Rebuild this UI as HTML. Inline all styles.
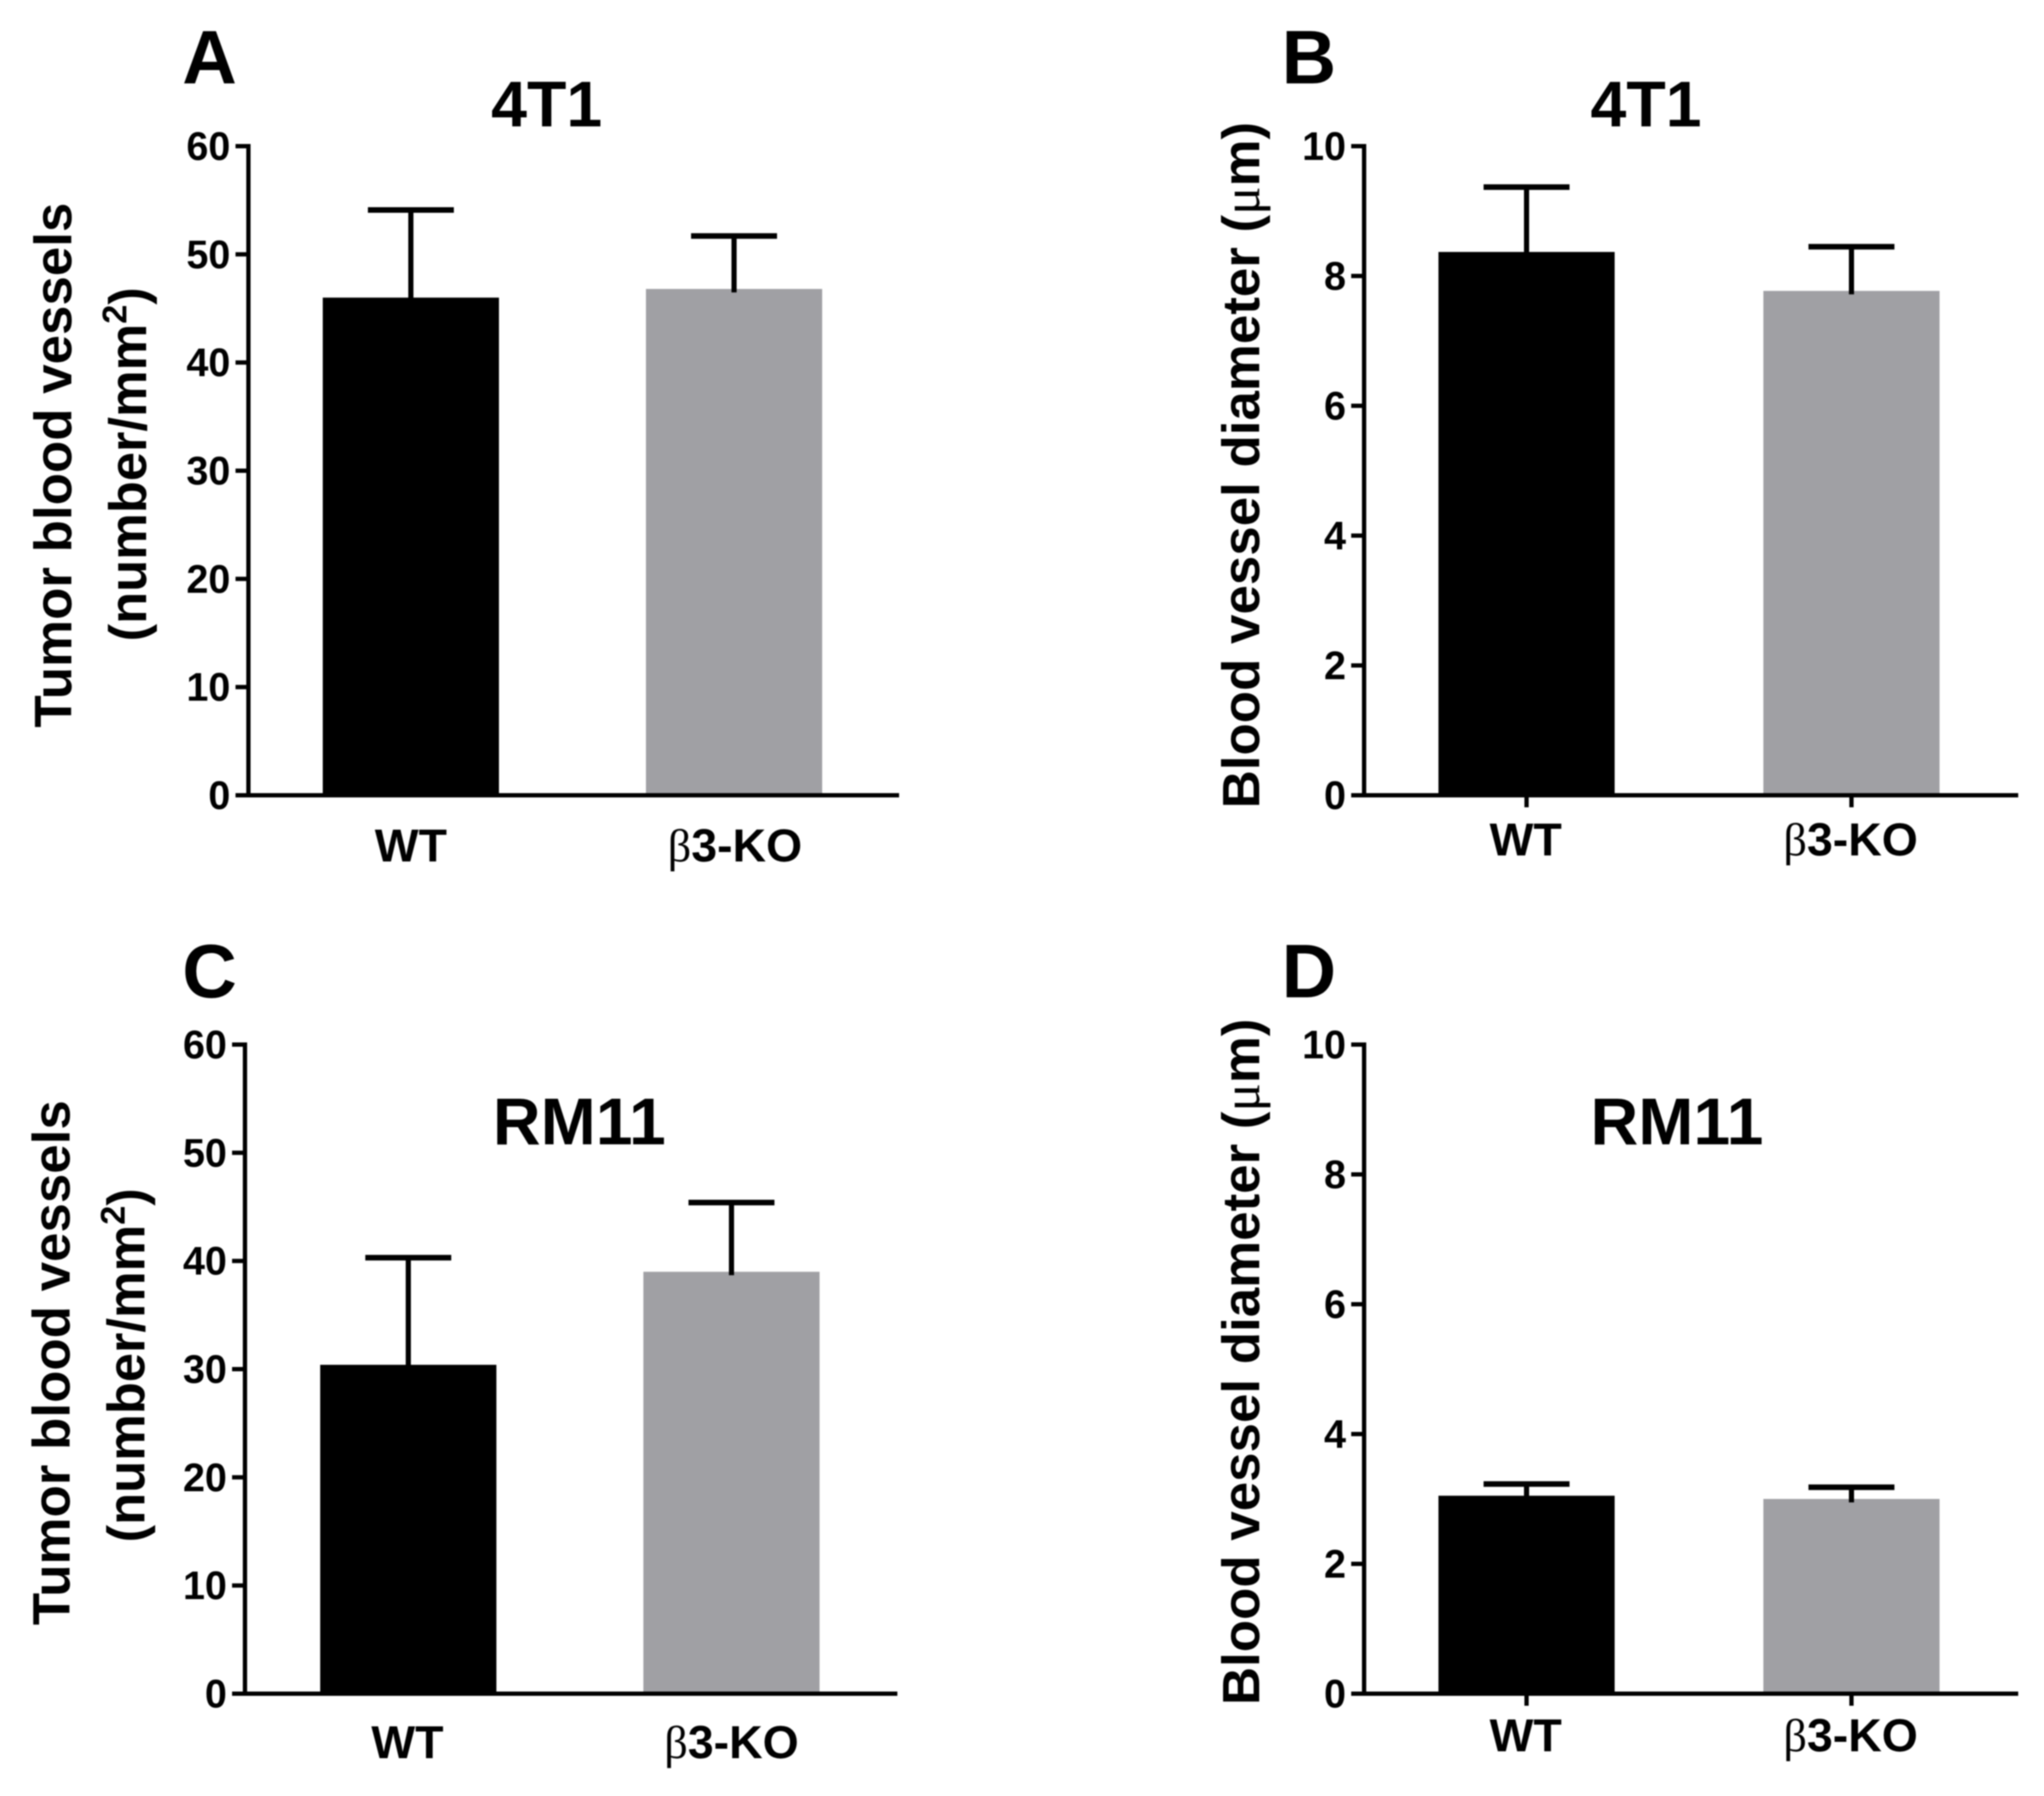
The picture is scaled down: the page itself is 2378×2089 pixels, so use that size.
<!DOCTYPE html>
<html lang="en">
<head>
<meta charset="utf-8">
<title>Tumor blood vessels and vessel diameter</title>
<style>
html,body{margin:0;padding:0;background:#fff;}
#figure{display:block;width:2378px;height:2089px;filter:blur(0.8px);}
text{font-family:"Liberation Sans",Arial,sans-serif;font-weight:700;fill:#000;}
</style>
</head>
<body>
<svg id="figure" xmlns="http://www.w3.org/2000/svg" width="2378" height="2089" viewBox="0 0 2378 2089"></svg>
<script>
const categories = ['WT', 'KO'];

const countTicks = [0, 10, 20, 30, 40, 50, 60];
const diameterTicks = [0, 2, 4, 6, 8, 10];

const panelAMeans = [46.0, 46.8];
const panelAErrorTops = [54.1, 51.7];
const panelBMeans = [8.37, 7.77];
const panelBErrorTops = [9.37, 8.45];
const panelCMeans = [30.4, 39.0];
const panelCErrorTops = [40.3, 45.4];
const panelDMeans = [3.05, 3.0];
const panelDErrorTops = [3.23, 3.18];

const SVG_NS = 'http://www.w3.org/2000/svg';
const figure = document.getElementById('figure');
const BAR_COLORS = {WT: '#000000', KO: '#a0a0a4'};

function make(parent, tag, attrs) {
  const el = document.createElementNS(SVG_NS, tag);
  for (const key in attrs) el.setAttribute(key, attrs[key]);
  parent.appendChild(el);
  return el;
}

function addSpan(parent, content, attrs) {
  const span = make(parent, 'tspan', attrs || {});
  span.textContent = content;
  return span;
}

function drawPanel(cfg) {
  const g = make(figure, 'g', {});
  
  

  const maxTick = cfg.ticks[cfg.ticks.length - 1];
  const yScale = v => cfg.y0 - (v / maxTick) * (cfg.y0 - cfg.yTop);
  const xCenters = [cfg.cx1, cfg.cx2];

  // Bars
  categories.forEach((cat, i) => {
    const cx = xCenters[i];
    const top = yScale(cfg.means[i]);
    const capY = yScale(cfg.errorTops[i]);

    const bar = make(g, 'rect', {x: cx - 102.5, y: top, width: 205, height: cfg.y0 - top, fill: BAR_COLORS[cat]});
    
    

    const stem = make(g, 'line', {x1: cx, x2: cx, y1: top + 4, y2: capY, stroke: '#000', 'stroke-width': 6});
    
    

    const cap = make(g, 'line', {x1: cx - 50, x2: cx + 50, y1: capY, y2: capY, stroke: '#000', 'stroke-width': 6.5});
    
    

    if (cfg.xTicks) {
      const xTick = make(g, 'line', {x1: cx, x2: cx, y1: cfg.y0, y2: cfg.y0 + 14, stroke: '#000', 'stroke-width': 5});
      
      
    }

    const label = make(g, 'text', {x: cfg.labelX[i], y: cfg.labelY, 'font-size': 54, 'text-anchor': 'middle'});
    
    
    if (cat === 'KO') {
      addSpan(label, 'β', {'font-family': '"Liberation Serif",serif', 'font-weight': 400});
      addSpan(label, '3-KO');
    } else {
      addSpan(label, 'WT');
    }
  });

  // Y axis ticks and labels
  cfg.ticks.forEach(t => {
    const y = yScale(t);
    const tick = make(g, 'line', {x1: cfg.xAxis - 15, x2: cfg.xAxis, y1: y, y2: y, stroke: '#000', 'stroke-width': 5});
    
    
    const label = make(g, 'text', {x: cfg.xAxis - 21, y: y + 16, 'font-size': 46, 'text-anchor': 'end'});
    label.textContent = String(t);
    
    
  });

  // Axis lines
  const yAxis = make(g, 'line', {x1: cfg.xAxis, x2: cfg.xAxis, y1: cfg.yTop - 2.5, y2: cfg.y0 + 2.5, stroke: '#000', 'stroke-width': 5});
  
  
  const xAxis = make(g, 'line', {x1: cfg.xAxis, x2: cfg.xEnd, y1: cfg.y0, y2: cfg.y0, stroke: '#000', 'stroke-width': 5});
  
  

  // Panel letter and title
  const letter = make(g, 'text', {x: cfg.letterX, y: cfg.letterY, 'font-size': 88});
  letter.textContent = cfg.letter;
  
  

  const title = make(g, 'text', {x: cfg.titleX, y: cfg.titleY, 'font-size': cfg.titleSize, 'text-anchor': 'middle'});
  title.textContent = cfg.title;
  
  

  // Y axis title
  const yTitle = make(g, 'text', {transform: 'translate(' + cfg.yTitleX + ',' + cfg.yTitleY + ') rotate(-90)', 'font-size': 61.5, 'text-anchor': 'middle'});
  
  
  if (cfg.twoLine) {
    addSpan(yTitle, 'Tumor blood vessels', {x: 0, y: 0});
    const unit = make(g, 'text', {transform: 'translate(' + (cfg.yTitleX + 87) + ',' + cfg.unitY + ') rotate(-90)', 'font-size': 61, 'text-anchor': 'middle'});
    
    
    addSpan(unit, '(number/mm');
    addSpan(unit, '2', {'font-size': 40, dy: -23});
    addSpan(unit, ')', {dy: 23});
  } else {
    addSpan(yTitle, 'Blood vessel diameter (');
    addSpan(yTitle, 'μ', {'font-family': '"Liberation Serif",serif', 'font-weight': 400});
    addSpan(yTitle, 'm)');
  }
}

drawPanel({id: 'panel-a', letter: 'A', title: '4T1', titleSize: 75, ticks: countTicks, means: panelAMeans, errorTops: panelAErrorTops,
  xAxis: 289, xEnd: 1046, yTop: 170, y0: 925, cx1: 478, cx2: 854, xTicks: false,
  labelX: [478, 855], labelY: 1002, letterX: 212, letterY: 97, titleX: 636, titleY: 147,
  yTitleX: 83, yTitleY: 541, unitY: 540, twoLine: true});

drawPanel({id: 'panel-b', letter: 'B', title: '4T1', titleSize: 75, ticks: diameterTicks, means: panelBMeans, errorTops: panelBErrorTops,
  xAxis: 1587, xEnd: 2348, yTop: 170, y0: 925, cx1: 1776, cx2: 2154, xTicks: true,
  labelX: [1775, 2153], labelY: 995, letterX: 1491, letterY: 97, titleX: 1915, titleY: 147,
  yTitleX: 1465, yTitleY: 541, twoLine: false});

drawPanel({id: 'panel-c', letter: 'C', title: 'RM11', titleSize: 77, ticks: countTicks, means: panelCMeans, errorTops: panelCErrorTops,
  xAxis: 285, xEnd: 1044, yTop: 1215, y0: 1970, cx1: 475, cx2: 851, xTicks: false,
  labelX: [474, 851], labelY: 2045, letterX: 212, letterY: 1160, titleX: 674, titleY: 1331,
  yTitleX: 81, yTitleY: 1585, unitY: 1588, twoLine: true});

drawPanel({id: 'panel-d', letter: 'D', title: 'RM11', titleSize: 77, ticks: diameterTicks, means: panelDMeans, errorTops: panelDErrorTops,
  xAxis: 1587, xEnd: 2348, yTop: 1215, y0: 1970, cx1: 1776, cx2: 2154, xTicks: true,
  labelX: [1775, 2153], labelY: 2037, letterX: 1491, letterY: 1160, titleX: 1951, titleY: 1331,
  yTitleX: 1465, yTitleY: 1584, twoLine: false});
</script>
</body>
</html>
